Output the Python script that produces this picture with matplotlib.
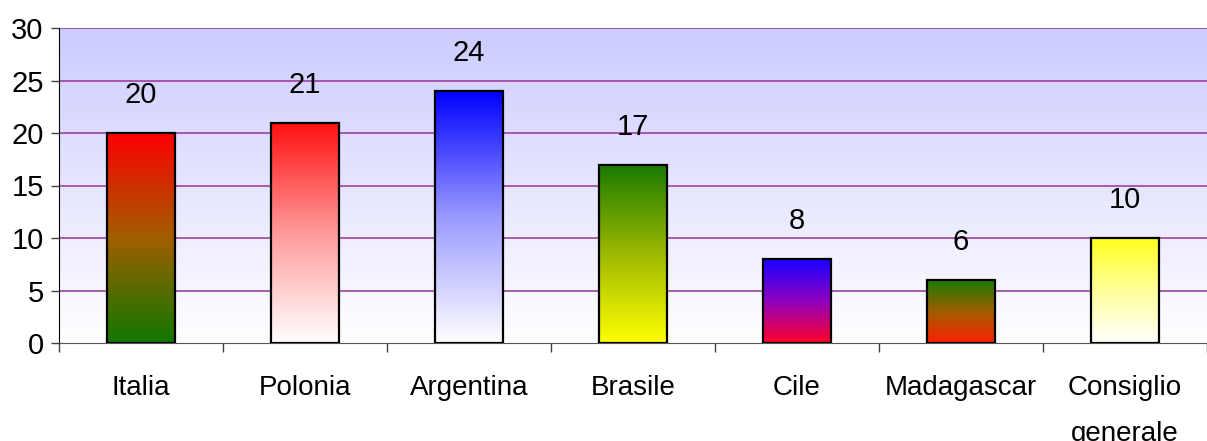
import numpy as np
import matplotlib.pyplot as plt
from matplotlib.colors import LinearSegmentedColormap

# Data
categories = ['Italia', 'Polonia', 'Argentina', 'Brasile', 'Cile', 'Madagascar', 'Consiglio\ngenerale']
values = [20, 21, 24, 17, 8, 6, 10]

# gradient colours for each bar (top, middle, bottom)
bar_top_colors = ['#ff0000', '#ff1010', '#0000ff', '#1a7a00', '#1a00ff', '#1a7a00', '#ffff20']
bar_mid_colors = ['#a05f00', '#ff9a9a', '#9a9aff', '#9cb800', '#9000c0', '#a05f00', '#ffff9a']
bar_bottom_colors = ['#107800', '#ffffff', '#ffffff', '#ffff00', '#ff0028', '#ff2000', '#ffffff']

plt.rcParams['font.family'] = ['Liberation Sans', 'DejaVu Sans']

fig = plt.figure(figsize=(12.07, 4.41), dpi=100)
ax = fig.add_axes([59 / 1207, 98 / 441, 1148 / 1207, 315 / 441])

x = np.arange(len(categories))
BAR_WIDTH = 0.41

# background gradient (lavender at top, white at bottom)
bg = LinearSegmentedColormap.from_list('bg', ['#ffffff', '#ccccff'])
grad = np.linspace(0, 1, 256).reshape(-1, 1)
ax.imshow(grad, cmap=bg, origin='lower', extent=[-0.5, 6.5, 0, 30],
          aspect='auto', zorder=0)

# grid lines
for yv in range(5, 31, 5):
    ax.axhline(yv, color='#993399', lw=1.1, zorder=1)

# bars with vertical gradient
for i, v in enumerate(values):
    cmap = LinearSegmentedColormap.from_list(
        'b%d' % i, [bar_bottom_colors[i], bar_mid_colors[i], bar_top_colors[i]])
    x0 = x[i] - BAR_WIDTH / 2
    ax.imshow(grad, cmap=cmap, origin='lower', extent=[x0, x0 + BAR_WIDTH, 0, v],
              aspect='auto', zorder=2)
    ax.bar(x[i], v, width=BAR_WIDTH, facecolor='none', edgecolor='black', lw=1.6, zorder=3)
    ax.annotate(str(v), (x[i], v), xytext=(0, 17), textcoords='offset points',
                ha='center', va='bottom', fontsize=21)

ax.set_xlim(-0.5, 6.5)
ax.set_ylim(0, 30)
ax.set_yticks(range(0, 31, 5))
ax.set_xticks(x)
ax.set_xticklabels(categories, linespacing=2.0, va='top')
ax.set_xticks(np.arange(-0.5, 7, 1), minor=True)

ax.tick_params(axis='y', length=6, width=1, color='#404040', labelsize=21, pad=5)
ax.tick_params(axis='x', which='major', length=0, labelsize=20, pad=23)
ax.tick_params(axis='x', which='minor', length=6.5, width=1, color='#404040')

for s in ['top', 'right']:
    ax.spines[s].set_visible(False)
ax.spines['left'].set_color('#000000')
ax.spines['bottom'].set_color('#555555')

fig.savefig('out.png', dpi=100)
